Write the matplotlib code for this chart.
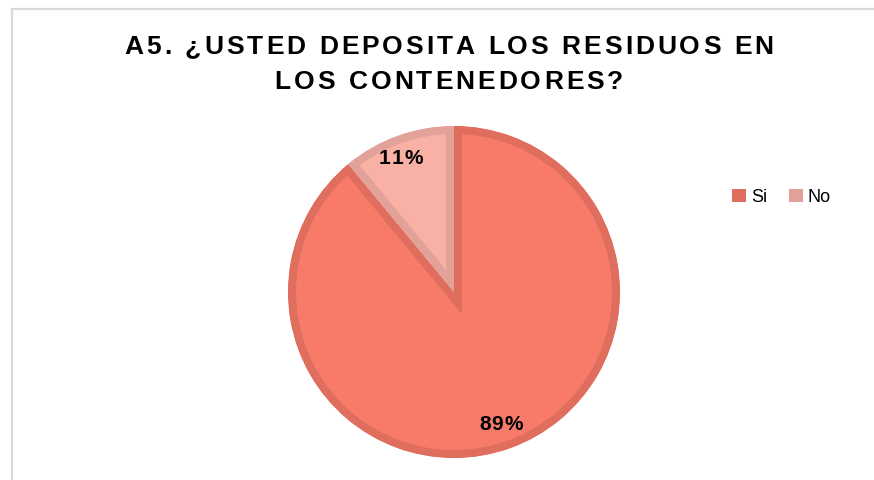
import matplotlib
matplotlib.use("Agg")
import matplotlib.pyplot as plt
from matplotlib.patches import Rectangle

plt.rcParams["font.family"] = ["Liberation Sans", "DejaVu Sans"]

# Data
labels = ["Si", "No"]
shares = [89, 11]
fill_colors = ["#F87B6A", "#F9B0A5"]
edge_colors = ["#E06E5F", "#E3A299"]
title_lines = ["A5. ¿USTED DEPOSITA LOS RESIDUOS EN", "LOS CONTENEDORES?"]

W, H = 874, 480
fig = plt.figure(figsize=(W / 100, H / 100), dpi=100)
ax = fig.add_axes([0, 0, 1, 1])
renderer = fig.canvas.get_renderer()


def spaced_text(s, cx, cy, spacing, **kw):
    # draw text char by char with extra letter spacing, centred on cx
    widths = []
    for ch in s:
        t = ax.text(0, 0, ch, **kw)
        widths.append(t.get_window_extent(renderer).width if ch != " " else None)
        t.remove()
    sp = ax.text(0, 0, "a a", **kw)
    sp_w = sp.get_window_extent(renderer).width
    sp.remove()
    a = ax.text(0, 0, "aa", **kw)
    space_w = sp_w - a.get_window_extent(renderer).width
    a.remove()
    widths = [space_w if w is None else w for w in widths]
    total = sum(widths) + spacing * (len(s) - 1)
    x = cx - total / 2
    for ch, w in zip(s, widths):
        ax.text(x, cy, ch, ha="left", va="center", **kw)
        x += w + spacing


# chart frame
ax.add_patch(Rectangle((11.5, -5), W, H - 8.5 + 5, fill=False,
                       edgecolor="#D9D9D9", linewidth=1.6))

wedges, _ = ax.pie(shares, colors=fill_colors, startangle=90, counterclock=False,
                   center=(454, 188), radius=166, explode=[0, 0.03],
                   frame=True)
for w, ec in zip(wedges, edge_colors):
    w.set_edgecolor(ec)
    w.set_linewidth(11.5)
    w.set_clip_on(True)
    w.set_clip_path(w)
ax.set_xlim(0, W)
ax.set_ylim(0, H)
ax.set_aspect("equal")
ax.axis("off")

# percentage labels
spaced_text(f"{shares[1]}%", 401, H - 158, 1.0,
            fontsize=15, fontweight="bold", color="black")
spaced_text(f"{shares[0]}%", 501, H - 425, 1.0,
            fontsize=15, fontweight="bold", color="black")

spaced_text(title_lines[0], 449, H - 47, 3.0, fontsize=19, fontweight="bold", color="black")
spaced_text(title_lines[1], 449, H - 82, 3.0, fontsize=19, fontweight="bold", color="black")

leg = fig.legend(wedges, labels, loc="center left", bbox_to_anchor=(716 / W, 1 - 197 / H),
                 ncol=2, frameon=False, fontsize=13, handlelength=0.75, handleheight=0.75,
                 handletextpad=0.3, columnspacing=1.2)
for h, c in zip(leg.legend_handles, edge_colors):
    h.set_linewidth(0)
    h.set_facecolor(c)
    h.set_clip_path(None)

fig.savefig("out.png", dpi=100)
